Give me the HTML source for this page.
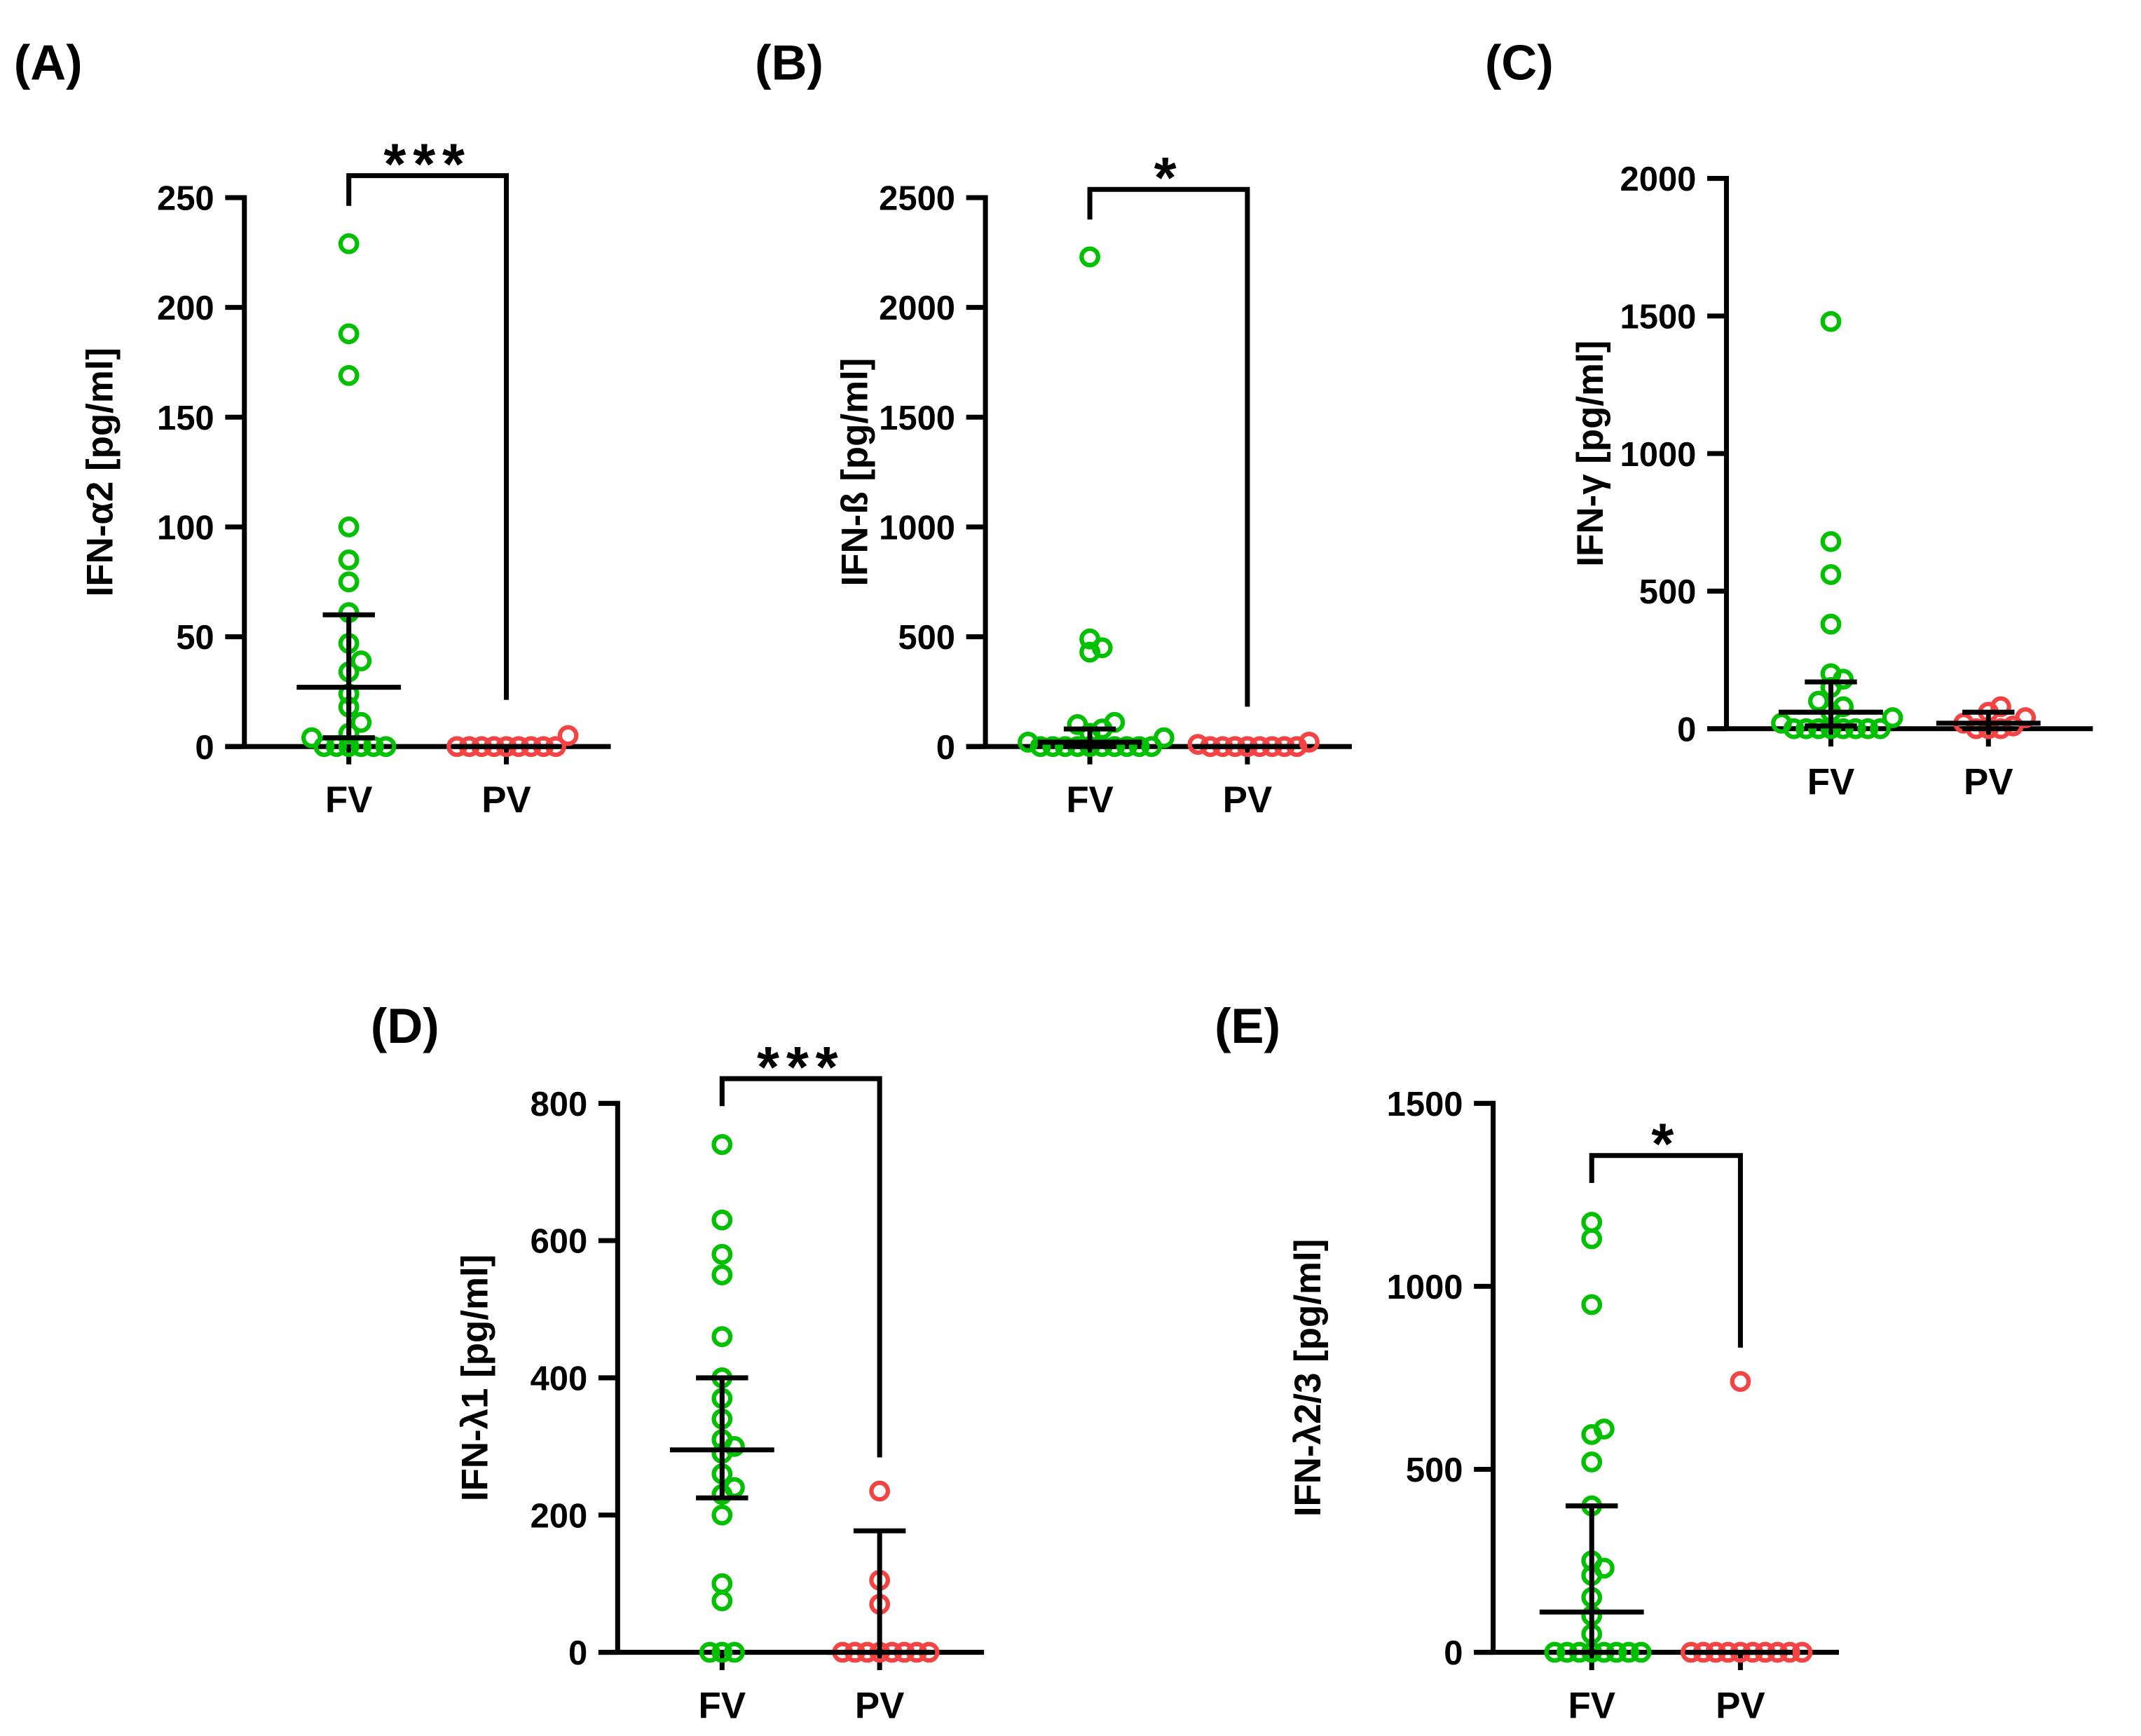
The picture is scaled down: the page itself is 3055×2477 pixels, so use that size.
<!DOCTYPE html>
<html><head><meta charset="utf-8"><style>
html,body{margin:0;padding:0;background:#fff}
svg{display:block}
text{font-family:"Liberation Sans",Arial,sans-serif;font-weight:bold;fill:#000}
</style></head><body>
<svg id="fig" width="3055" height="2477" viewBox="0 0 1560 1265" xmlns="http://www.w3.org/2000/svg"></svg>
<script>
// Panel A data
const aFV=[229,188,169,100,85,75,61,47,39,34,24,18,11,6,4,0,0,0,0,0,0];
const aPV=[5,0,0,0,0,0,0,0,0,0];
const aStats=[[27,4,60],[0,0,0]];
const aTicks=[0,50,100,150,200,250];
// Panel B data
const bFV=[2230,490,450,430,110,100,80,60,40,20,0,0,0,0,0,0,0,0,0,0];
const bPV=[20,10,0,0,0,0,0,0,0,0];
const bStats=[[20,0,80],[0,0,0]];
const bTicks=[0,500,1000,1500,2000,2500];
// Panel C data
const cFV=[1480,680,560,380,200,180,150,100,80,60,40,20,0,0,0,0,0,0,0,0];
const cPV=[80,60,40,20,10,0,0,0];
const cStats=[[60,10,170],[20,0,60]];
const cTicks=[0,500,1000,1500,2000];
// Panel D data
const dFV=[740,630,580,550,460,400,370,340,310,300,290,260,240,230,200,100,75,0,0,0];
const dPV=[235,105,70,0,0,0,0,0,0,0,0];
const dStats=[[295,225,400],[0,0,177]];
const dTicks=[0,200,400,600,800];
// Panel E data
const eFV=[1175,1130,950,610,595,520,400,250,230,210,150,100,50,0,0,0,0,0,0,0,0];
const ePV=[740,0,0,0,0,0,0,0,0,0,0];
const eStats=[[110,0,400],[0,0,0]];
const eTicks=[0,500,1000,1500];

const NS="http://www.w3.org/2000/svg";
const svg=document.getElementById('fig');
function mk(tag,attrs,parent){const e=document.createElementNS(NS,tag);for(const k in attrs)e.setAttribute(k,attrs[k]);(parent||svg).appendChild(e);return e;}

const panels=[
 {id:'a',letter:'(A)',lx:10,ly:58,x0:178,x1:445,y0:544,y1:144,max:250,ticks:aTicks,fv:aFV,pv:aPV,st:aStats,label:'IFN-\u03b12 [pg/ml]',labx:82,sig:'***',bt:128,bl:150,br:510},
 {id:'b',letter:'(B)',lx:550,ly:58,x0:718,x1:985,y0:544,y1:144,max:2500,ticks:bTicks,fv:bFV,pv:bPV,st:bStats,label:'IFN-\u00df [pg/ml]',labx:632,sig:'*',bt:138,bl:160,br:515},
 {id:'c',letter:'(C)',lx:1082,ly:58,x0:1258,x1:1525,y0:531,y1:130,max:2000,ticks:cTicks,fv:cFV,pv:cPV,st:cStats,label:'IFN-\u03b3 [pg/ml]',labx:1168,sig:null},
 {id:'d',letter:'(D)',lx:270,ly:760,x0:450,x1:717,y0:1204,y1:804,max:800,ticks:dTicks,fv:dFV,pv:dPV,st:dStats,label:'IFN-\u03bb1 [pg/ml]',labx:355,sig:'***',bt:786,bl:806,br:1062},
 {id:'e',letter:'(E)',lx:885,ly:760,x0:1088,x1:1340,y0:1204,y1:804,max:1500,ticks:eTicks,fv:eFV,pv:ePV,st:eStats,label:'IFN-\u03bb2/3 [pg/ml]',labx:962,sig:'*',bt:842,bl:862,br:982}
];

function swarm(vals,cx,yf){
  const placed=[];const d=9;
  vals.slice().sort((a,b)=>a-b).forEach(v=>{
    const y=yf(v);let k=0;
    while(true){
      const off=k===0?0:(k%2?1:-1)*Math.ceil(k/2)*d;
      const x=cx+off;
      if(placed.every(p=>Math.hypot(p.x-x,p.y-y)>=d)){placed.push({x,y,v});break;}
      k++; if(k>40){placed.push({x,y,v});break;}
    }
  });
  return placed;
}

panels.forEach(P=>{
  const g=mk('g',{});
  
  
  const yf=v=>P.y0-(v/P.max)*(P.y0-P.y1);
  const cFVx=P.x0+(P.x1-P.x0)*0.285, cPVx=P.x0+(P.x1-P.x0)*0.715;
  const t=mk('text',{x:P.lx,y:P.ly,'font-size':36},g);t.textContent=P.letter;
  
  const ya=mk('line',{x1:P.x0,y1:P.y0+1.5,x2:P.x0,y2:P.y1-1.8,stroke:'#000','stroke-width':3.6},g);
  
  P.ticks.forEach(tv=>{
    const y=yf(tv);
    mk('line',{x1:P.x0-14,y1:y,x2:P.x0,y2:y,stroke:'#000','stroke-width':3.6},g);
    const tl=mk('text',{x:P.x0-22,y:y+9,'font-size':25,'text-anchor':'end'},g);tl.textContent=tv;
    
  });
  const xa=mk('line',{x1:P.x0-14,y1:P.y0,x2:P.x1,y2:P.y0,stroke:'#000','stroke-width':3.6},g);
  
  [[cFVx,'FV'],[cPVx,'PV']].forEach(([x,l])=>{
    mk('line',{x1:x,y1:P.y0,x2:x,y2:P.y0+13,stroke:'#000','stroke-width':3.6},g);
    const tl=mk('text',{x:x,y:P.y0+48,'font-size':27,'text-anchor':'middle'},g);tl.textContent=l;
    
  });
  const yl=mk('text',{x:0,y:0,'font-size':27,'text-anchor':'middle',transform:`translate(${P.labx},${(P.y0+P.y1)/2}) rotate(-90)`},g);
  yl.textContent=P.label;
  [[P.fv,cFVx,'#00c000','fv'],[P.pv,cPVx,'#f44343','pv']].forEach(([vals,cx,col,nm])=>{
    swarm(vals,cx,yf).forEach(p=>{
      const c=mk('circle',{cx:p.x,cy:p.y,r:6,fill:'none',stroke:col,'stroke-width':3.2},g);
      
    });
  });
  [[P.st[0],cFVx],[P.st[1],cPVx]].forEach(([s,cx])=>{
    const [m,lo,hi]=s;
    const eg=mk('g',{},g);
    if(hi>lo)mk('line',{x1:cx,y1:yf(lo),x2:cx,y2:yf(hi),stroke:'#000','stroke-width':3.6},eg);
    if(hi>m)mk('line',{x1:cx-19,y1:yf(hi),x2:cx+19,y2:yf(hi),stroke:'#000','stroke-width':3.6},eg);
    if(lo<m)mk('line',{x1:cx-19,y1:yf(lo),x2:cx+19,y2:yf(lo),stroke:'#000','stroke-width':3.6},eg);
    mk('line',{x1:cx-38,y1:yf(m),x2:cx+38,y2:yf(m),stroke:'#000','stroke-width':3.6},eg);
  });
  if(P.sig){
    const b=mk('polyline',{points:`${cFVx},${P.bl} ${cFVx},${P.bt} ${cPVx},${P.bt} ${cPVx},${P.br}`,fill:'none',stroke:'#000','stroke-width':3.6},g);
    
    const s=mk('text',{x:(cFVx+cPVx)/2,y:P.bt+6,'font-size':42,'text-anchor':'middle','letter-spacing':'5'},g);
    s.textContent=P.sig;
  }
});
</script>
</body></html>
